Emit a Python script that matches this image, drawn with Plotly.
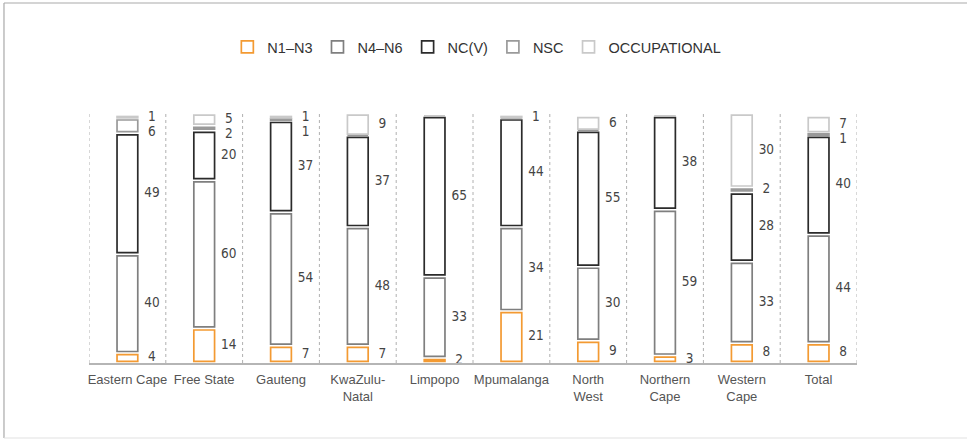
import plotly.graph_objects as go

provinces = ["Eastern Cape", "Free State", "Gauteng", "KwaZulu-<br>Natal", "Limpopo",
             "Mpumalanga", "North<br>West", "Northern<br>Cape", "Western<br>Cape", "Total"]
series_names = ["N1–N3", "N4–N6", "NC(V)", "NSC", "OCCUPATIONAL"]
n1_n3 = [4, 14, 7, 7, 2, 21, 9, 3, 8, 8]
n4_n6 = [40, 60, 54, 48, 33, 34, 30, 59, 33, 44]
ncv = [49, 20, 37, 37, 65, 44, 55, 38, 28, 40]
nsc = [6, 2, 1, 0, 0, 0, 0, 0, 2, 1]
occupational = [1, 5, 1, 9, 0, 1, 6, 0, 30, 7]
colors = ["#F39A32", "#7f7f7f", "#2b2b2b", "#9a9a9a", "#c9c9c9"]

series = [n1_n3, n4_n6, ncv, nsc, occupational]
xs = list(range(len(provinces)))
GAP = 1.3
MIN_H = 0.55

fig = go.Figure()
cum = [0.0] * len(provinces)
mids = [[None] * len(provinces) for _ in series]
for si, (name, vals, col) in enumerate(zip(series_names, series, colors)):
    bases, heights = [], []
    for i, v in enumerate(vals):
        if v > 0:
            h = max(v - GAP, MIN_H)
            bases.append(cum[i] + (v - h) / 2)
            heights.append(h)
            mids[si][i] = cum[i] + v / 2
        else:
            bases.append(cum[i])
            heights.append(0)
        cum[i] += v
    fig.add_trace(go.Bar(
        x=xs, y=heights, base=bases, name=name, width=0.27,
        marker=dict(color="white", line=dict(color=col, width=1.7)),
        hoverinfo="skip"))

# value labels with simple de-overlap from the top downwards
lx, ly, lt = [], [], []
for i in xs:
    prev = 105.6
    for si in reversed(range(len(series))):
        v = series[si][i]
        if v <= 0:
            continue
        y = min(mids[si][i], prev - 6.1)
        prev = y
        lx.append(i + 0.32)
        ly.append(y)
        lt.append(str(v))
fig.add_trace(go.Scatter(
    x=lx, y=ly, text=lt, mode="text", showlegend=False, hoverinfo="skip",
    textfont=dict(family="Liberation Sans Narrow, DejaVu Sans Condensed, Roboto, sans-serif",
                  size=13.5, color="#444")))

shapes = []
for k in range(len(provinces) + 1):
    shapes.append(dict(type="line", xref="x", yref="y", x0=k - 0.5, x1=k - 0.5, y0=0, y1=101.2,
                       line=dict(color="#b0b0b0", width=1, dash="dot"), layer="below"))
# card border
shapes.append(dict(type="line", xref="paper", yref="paper", x0=-0.1107, x1=1.2, y0=1.4286, y1=1.4286,
                   line=dict(color="#aaaaaa", width=1.2)))
shapes.append(dict(type="line", xref="paper", yref="paper", x0=-0.1107, x1=-0.1107, y0=-0.2976, y1=1.4286,
                   line=dict(color="#aaaaaa", width=1.2)))
shapes.append(dict(type="line", xref="paper", yref="paper", x0=-0.1107, x1=1.2, y0=-0.2976, y1=-0.2976,
                   line=dict(color="#e2e2e2", width=1.2)))

fig.update_layout(
    width=967, height=441,
    margin=dict(l=89, r=110, t=111, b=78),
    plot_bgcolor="white", paper_bgcolor="white",
    barmode="overlay",
    font=dict(family="Liberation Sans, Arial, sans-serif", color="#444"),
    xaxis=dict(range=[-0.5, 9.5], tickmode="array", tickvals=xs, ticktext=provinces,
               showline=True, linecolor="#b5b5b5", linewidth=1.5, showgrid=False, zeroline=False,
               ticks="", ticklabelstandoff=4, tickfont=dict(size=13, color="#555")),
    yaxis=dict(range=[0, 102], visible=False, showgrid=False, zeroline=False),
    legend=dict(orientation="h", x=0.505, xanchor="center", y=1.254, yanchor="middle",
                font=dict(size=14.5, color="#333"), itemclick=False, itemdoubleclick=False,
                traceorder="normal"),
    shapes=shapes,
)
fig.write_html("out.html", config={"displayModeBar": False},
               post_script="document.body.style.margin='0px';document.body.style.overflow='hidden';")
